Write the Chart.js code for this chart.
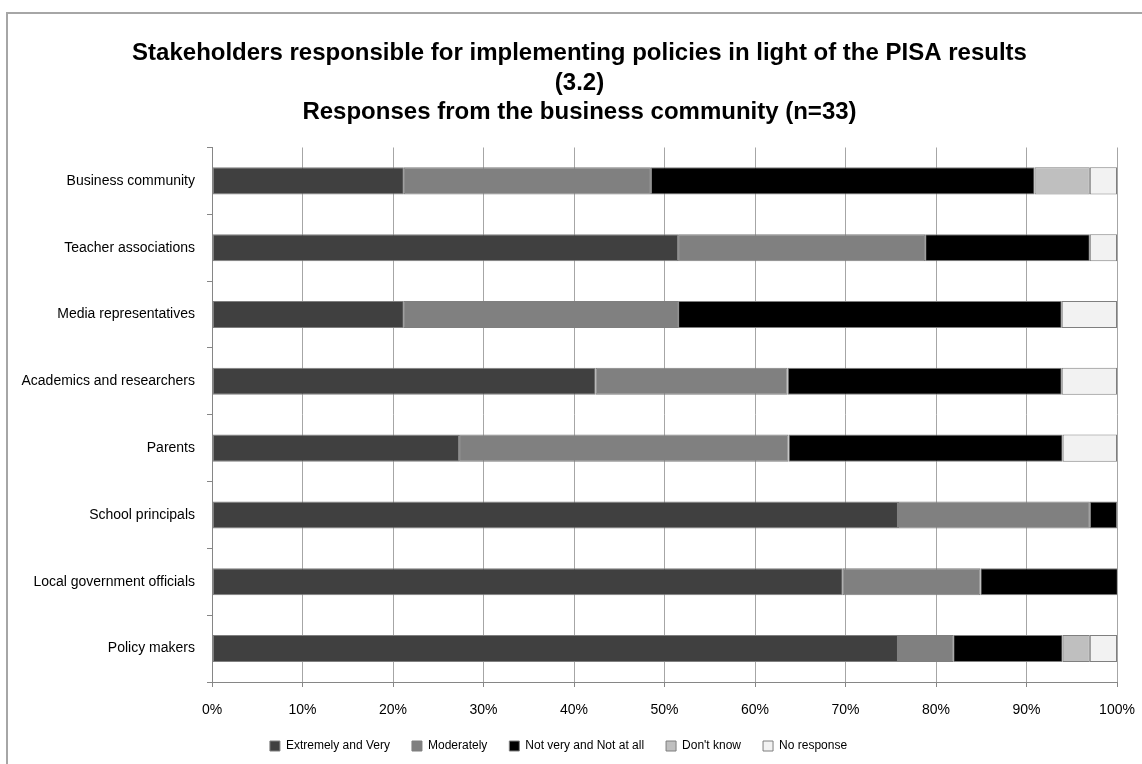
<!DOCTYPE html>
<html>
<head>
<meta charset="utf-8">
<title>Stakeholders responsible for implementing policies</title>
<script src="https://cdn.jsdelivr.net/npm/chart.js@4.4.1/dist/chart.umd.min.js"></script>
<style>
    html, body { margin: 0; padding: 0; background: #fff; overflow: hidden; }
    #frame {
        position: absolute; left: 6px; top: 12px; right: -10px; bottom: -10px;
        border-top: 2px solid #a6a6a6; border-left: 2px solid #a6a6a6;
        pointer-events: none;
    }
    #wrap { position: absolute; left: 0; top: 0; width: 1142px; height: 764px; }
</style>
</head>
<body>
<div id="frame"></div>
<div id="wrap"><canvas id="mychart" width="1142" height="764"></canvas></div>
<script>
// Stakeholder groups (top to bottom) --
const categories = [
    "Business community",
    "Teacher associations",
    "Media representatives",
    "Academics and researchers",
    "Parents",
    "School principals",
    "Local government officials",
    "Policy makers"
];

// Share of responses, in % (n=33) --
const extremelyVery = [21.2, 51.5, 21.2, 42.4, 27.3, 75.8, 69.7, 75.8];
const moderately    = [27.3, 27.3, 30.3, 21.2, 36.4, 21.2, 15.2, 6.1];
const notVery       = [42.4, 18.2, 42.4, 30.3, 30.3, 3.0, 15.2, 12.1];
const dontKnow      = [6.1, 0, 0, 0, 0, 0, 0, 3.0];
const noResponse    = [3.0, 3.0, 6.1, 6.1, 6.0, 0, 0, 3.0];

const seriesNames = ["Extremely and Very", "Moderately", "Not very and Not at all", "Don't know", "No response"];
const xTicks = [0, 10, 20, 30, 40, 50, 60, 70, 80, 90, 100];

const titleLines = [
    "Stakeholders responsible for implementing policies in light of the PISA results",
    "(3.2)",
    "Responses from the business community (n=33)"
];

const fontFamily = "'Liberation Sans', Arial, sans-serif";
const colors = ["#404040", "#808080", "#000000", "#bfbfbf", "#f2f2f2"];
const values = [extremelyVery, moderately, notVery, dontKnow, noResponse];

const datasets = seriesNames.map((name, i) => ({
    label: name,
    data: values[i],
    backgroundColor: colors[i],
    borderColor: "#7f7f7f",
    borderWidth: 1,
    borderSkipped: false,
    barPercentage: 0.405,
    categoryPercentage: 1.0
}));

// Title sits a little right of the page centre in the original --
const titleShift = {
    id: 'titleShift',
    afterLayout: (chart) => {
        if (chart.titleBlock) {
            chart.titleBlock.left += 42;
        }
    }
};

const options = {
    type: 'bar',
    data: {
        labels: categories,
        datasets: datasets
    },
    options: {
        indexAxis: 'y',
        responsive: false,
        animation: false,
        layout: {
            padding: { left: 0, right: 25, top: 0, bottom: 2 }
        },
        scales: {
            x: {
                stacked: true,
                min: 0,
                max: 100,
                afterBuildTicks: (scale) => {
                    scale.ticks = xTicks.map(v => ({ value: v }));
                },
                afterFit: (scale) => {
                    scale.height = 36;
                    scale.paddingRight = 0;
                },
                ticks: {
                    callback: (v) => v + '%',
                    color: '#000',
                    padding: 15,
                    font: { family: fontFamily, size: 14 }
                },
                grid: {
                    color: '#a6a6a6',
                    tickColor: '#868686',
                    tickLength: 5
                },
                border: { color: '#868686', width: 1 }
            },
            y: {
                stacked: true,
                afterFit: (scale) => { scale.width = 212; },
                ticks: {
                    color: '#000',
                    padding: 12,
                    font: { family: fontFamily, size: 14 }
                },
                grid: {
                    drawOnChartArea: false,
                    tickColor: '#868686',
                    tickLength: 5
                },
                border: { color: '#868686', width: 1 }
            }
        },
        plugins: {
            title: {
                display: true,
                text: titleLines,
                color: '#000',
                font: { family: fontFamily, size: 24, weight: 'bold', lineHeight: 1.229 },
                padding: { top: 39, bottom: 20 }
            },
            legend: {
                display: true,
                position: 'bottom',
                labels: {
                    boxWidth: 10,
                    boxHeight: 10,
                    padding: 22,
                    color: '#000',
                    font: { family: fontFamily, size: 12 }
                }
            },
            tooltip: { enabled: false }
        }
    },
    plugins: [titleShift]
};

var ctx = document.getElementById('mychart').getContext('2d');
let chart = new Chart(ctx, options);
</script>
</body>
</html>
